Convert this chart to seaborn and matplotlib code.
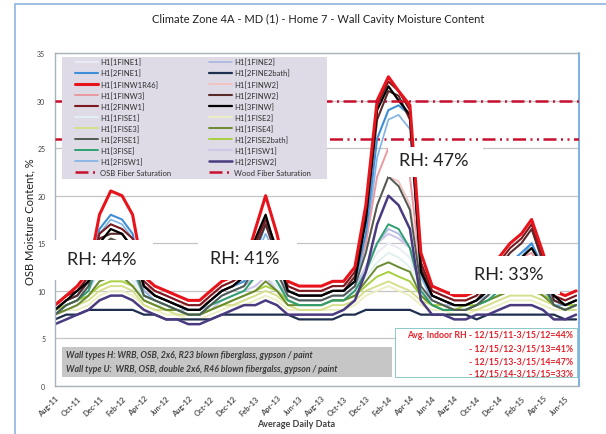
import pandas as pd
import matplotlib
matplotlib.use("Agg")
import matplotlib.pyplot as plt
from matplotlib.patches import Rectangle
from matplotlib.lines import Line2D
import seaborn as sns

sns.set_style("white")
plt.rcParams['font.family'] = ['Lato', 'DejaVu Sans']

# ---------------- data (monthly readings, Aug-11 .. Jul-15) ----------------
months = pd.date_range("2011-08-01", periods=48, freq="MS")

h1_1FINE1 = [8.0, 8.5, 9.0, 10.0, 12.0, 13.0, 12.5, 11.5, 9.5, 9.0, 8.5, 8.0,
             8.0, 8.0, 8.5, 9.5, 10.0, 10.5, 11.5, 12.5, 11.0, 9.0, 9.0, 9.0,
             9.0, 9.5, 9.5, 10.0, 12.0, 14.0, 15.0, 14.5, 13.5, 10.0, 9.0, 8.5,
             8.5, 8.5, 9.0, 9.5, 10.5, 11.0, 11.5, 11.5, 10.5, 9.0, 8.5, 9.0]
h1_1FINE2 = [8.0, 8.5, 9.0, 10.0, 12.5, 13.0, 13.0, 12.0, 9.5, 9.0, 8.5, 8.0,
             8.0, 8.0, 8.5, 9.5, 10.0, 10.5, 11.5, 12.5, 11.0, 9.5, 9.0, 9.0,
             9.0, 9.5, 9.5, 10.5, 12.5, 15.0, 16.5, 16.0, 14.5, 10.0, 9.0, 8.5,
             8.5, 8.5, 9.0, 9.5, 10.5, 11.0, 11.5, 12.0, 10.5, 9.0, 8.5, 9.0]
h1_2FINE1 = [8.0, 9.0, 9.5, 11.0, 16.5, 18.0, 17.5, 16.0, 10.5, 9.5, 9.0, 8.5,
             8.0, 8.0, 9.0, 10.0, 10.5, 11.0, 14.0, 17.0, 14.0, 10.0, 9.5, 9.5,
             9.5, 10.0, 10.0, 11.0, 16.0, 26.0, 29.0, 29.5, 28.5, 12.0, 9.5, 9.0,
             8.5, 8.5, 9.0, 10.0, 12.0, 13.0, 14.0, 15.0, 12.5, 9.0, 8.5, 9.0]
h1_2FINE2bath = [7.0, 7.5, 7.5, 8.0, 8.0, 8.0, 8.0, 8.0, 7.5, 7.5, 7.0, 7.0,
                 7.0, 7.0, 7.0, 7.5, 7.5, 7.5, 7.5, 7.5, 7.5, 7.5, 7.0, 7.0,
                 7.0, 7.0, 7.5, 7.5, 8.0, 8.0, 8.0, 8.0, 8.0, 7.5, 7.5, 7.5,
                 7.5, 7.5, 7.0, 7.5, 7.5, 7.5, 7.5, 7.5, 7.5, 7.5, 7.0, 7.0]
h1_1FINW1R46 = [8.5, 9.5, 10.5, 12.0, 18.0, 20.5, 20.0, 18.0, 11.5, 10.5, 10.0, 9.5,
                9.0, 9.0, 10.0, 11.0, 11.5, 12.5, 16.5, 20.0, 16.0, 11.0, 10.5, 10.5,
                10.5, 11.0, 11.0, 12.5, 19.0, 30.0, 32.5, 31.0, 29.5, 14.0, 10.5, 10.0,
                9.5, 9.5, 10.0, 11.5, 13.5, 15.0, 16.0, 17.5, 14.0, 10.0, 9.5, 10.0]
h1_1FINW2 = [8.5, 9.0, 9.5, 11.0, 13.5, 14.0, 14.0, 13.0, 10.0, 9.5, 9.0, 8.5,
             8.5, 8.5, 9.0, 10.0, 10.5, 11.0, 12.0, 13.0, 11.5, 10.0, 9.5, 9.5,
             9.5, 10.0, 10.0, 11.0, 14.0, 19.0, 22.0, 21.5, 19.0, 11.5, 9.5, 9.0,
             8.5, 8.5, 9.0, 10.0, 11.5, 12.5, 13.0, 13.0, 11.5, 9.5, 9.0, 9.5]
h1_1FINW3 = [8.5, 9.5, 10.0, 11.5, 14.5, 15.5, 15.0, 14.0, 10.5, 10.0, 9.5, 9.0,
             8.5, 8.5, 9.5, 10.5, 11.0, 11.5, 13.0, 14.5, 12.5, 10.5, 10.0, 10.0,
             10.0, 10.5, 10.5, 11.5, 15.0, 22.0, 25.0, 24.5, 22.0, 12.0, 10.0, 9.5,
             9.0, 9.0, 9.5, 10.5, 12.0, 13.0, 13.5, 14.0, 12.0, 10.0, 9.5, 10.0]
h1_2FINW2 = [8.0, 9.0, 9.5, 11.0, 15.5, 16.0, 16.0, 14.5, 10.5, 9.5, 9.0, 8.5,
             8.0, 8.0, 9.0, 10.0, 10.5, 11.5, 14.5, 17.0, 13.5, 10.0, 9.5, 9.5,
             9.5, 10.0, 10.0, 11.5, 17.5, 28.0, 31.0, 30.5, 28.0, 12.5, 9.5, 9.0,
             8.5, 8.5, 9.0, 10.5, 12.5, 14.0, 15.0, 16.5, 13.0, 9.0, 8.5, 9.0]
h1_2FINW1 = [8.5, 9.5, 10.0, 11.5, 16.0, 17.0, 16.5, 15.5, 11.0, 10.0, 9.5, 9.0,
             8.5, 8.5, 9.5, 10.5, 11.0, 12.0, 15.0, 17.5, 14.5, 10.5, 10.0, 10.0,
             10.0, 10.5, 10.5, 12.0, 18.0, 29.5, 32.0, 31.0, 29.0, 13.0, 10.0, 9.5,
             9.0, 9.0, 9.5, 11.0, 13.0, 14.5, 15.5, 17.0, 13.5, 9.5, 9.0, 9.5]
h1_3FINW = [8.0, 9.0, 10.0, 11.0, 15.0, 16.5, 16.0, 14.5, 10.5, 9.5, 9.0, 8.5,
            8.0, 8.0, 9.0, 10.0, 10.5, 11.5, 15.5, 18.0, 14.0, 10.0, 9.5, 9.5,
            9.5, 10.0, 10.0, 11.0, 17.5, 29.0, 31.5, 30.0, 28.5, 12.0, 9.5, 9.0,
            8.5, 8.5, 9.0, 10.0, 12.0, 13.0, 13.5, 14.5, 12.5, 9.5, 8.5, 9.0]
h1_1FISE1 = [8.0, 8.5, 9.0, 9.5, 11.0, 12.0, 12.0, 11.0, 9.0, 8.5, 8.5, 8.0,
             8.0, 8.0, 8.5, 9.0, 9.5, 10.0, 10.5, 11.5, 10.5, 9.0, 8.5, 8.5,
             8.5, 9.0, 9.0, 10.0, 11.5, 13.0, 14.0, 13.5, 12.5, 9.5, 9.0, 8.5,
             8.5, 8.5, 9.0, 9.5, 10.0, 10.5, 11.0, 11.0, 10.0, 9.0, 8.5, 9.0]
h1_1FISE2 = [7.5, 8.0, 8.0, 8.5, 9.5, 10.0, 10.0, 9.5, 8.5, 8.0, 7.5, 7.5,
             7.0, 7.0, 7.5, 8.0, 8.5, 8.5, 9.0, 9.5, 9.0, 8.0, 8.0, 8.0,
             8.0, 8.0, 8.0, 8.5, 9.5, 10.0, 10.5, 10.0, 9.5, 8.5, 8.0, 8.0,
             7.5, 7.5, 8.0, 8.0, 8.5, 9.0, 9.0, 9.0, 8.5, 8.0, 8.0, 8.0]
h1_1FISE3 = [7.5, 8.0, 8.5, 9.0, 10.0, 10.5, 10.5, 10.0, 8.5, 8.0, 8.0, 7.5,
             7.5, 7.5, 8.0, 8.5, 8.5, 9.0, 9.5, 10.0, 9.5, 8.5, 8.0, 8.0,
             8.0, 8.5, 8.5, 9.0, 10.0, 10.5, 11.0, 10.5, 10.0, 9.0, 8.5, 8.0,
             8.0, 8.0, 8.0, 8.5, 9.0, 9.5, 9.5, 9.5, 9.0, 8.5, 8.0, 8.0]
h1_1FISE4 = [7.5, 8.0, 8.5, 9.5, 11.0, 11.5, 11.5, 10.5, 9.0, 8.5, 8.0, 8.0,
             7.5, 7.5, 8.0, 8.5, 9.0, 9.5, 10.0, 11.0, 10.0, 8.5, 8.5, 8.5,
             8.5, 9.0, 9.0, 9.5, 11.0, 12.5, 13.0, 12.5, 12.0, 9.5, 8.5, 8.0,
             8.0, 8.0, 8.5, 9.0, 9.5, 10.0, 10.0, 10.5, 9.5, 8.5, 8.0, 8.5]
h1_2FISE1 = [7.5, 8.5, 9.0, 10.5, 14.5, 15.5, 15.0, 13.5, 9.5, 9.0, 8.5, 8.0,
             7.5, 7.5, 8.5, 9.5, 10.0, 10.5, 12.5, 14.5, 12.0, 9.5, 9.0, 9.0,
             9.0, 9.5, 9.5, 10.5, 14.0, 19.0, 22.0, 21.0, 18.5, 10.5, 9.0, 8.5,
             8.0, 8.0, 8.5, 9.5, 11.0, 12.0, 12.5, 13.0, 11.0, 8.5, 8.0, 8.5]
h1_2FISE2bath = [8.0, 8.5, 9.0, 9.5, 10.5, 11.0, 11.0, 10.5, 9.0, 8.5, 8.0, 8.0,
                 7.5, 7.5, 8.0, 8.5, 9.0, 9.5, 10.0, 10.5, 10.0, 9.0, 8.5, 8.5,
                 8.5, 9.0, 9.0, 9.5, 10.5, 11.5, 12.0, 11.5, 11.0, 9.5, 8.5, 8.5,
                 8.0, 8.5, 8.5, 9.0, 9.5, 10.0, 10.0, 10.0, 9.5, 9.0, 8.5, 8.5]
h1_3FISE = [7.5, 8.5, 9.0, 10.0, 13.5, 14.5, 14.0, 12.5, 9.5, 9.0, 8.5, 8.0,
            7.5, 7.5, 8.5, 9.0, 9.5, 10.0, 11.5, 13.0, 11.0, 9.0, 8.5, 8.5,
            8.5, 9.0, 9.0, 10.0, 12.0, 15.0, 17.0, 16.5, 14.5, 10.0, 8.5, 8.0,
            8.0, 8.0, 8.5, 9.0, 10.0, 11.0, 11.5, 12.0, 10.5, 8.5, 8.0, 8.5]
h1_1FISW1 = [7.5, 8.0, 8.5, 9.5, 11.0, 11.5, 11.5, 10.5, 9.0, 8.5, 8.0, 8.0,
             7.5, 7.5, 8.0, 9.0, 9.5, 10.0, 10.5, 11.5, 10.0, 9.0, 8.5, 8.5,
             8.5, 9.0, 9.0, 10.0, 12.5, 15.0, 16.0, 15.5, 14.5, 10.0, 9.0, 8.5,
             8.0, 8.0, 8.5, 9.0, 10.0, 10.5, 11.0, 11.0, 10.0, 8.5, 8.0, 8.5]
h1_2FISW1 = [8.0, 8.5, 9.0, 10.5, 16.0, 17.5, 17.0, 15.5, 10.0, 9.0, 8.5, 8.0,
             7.5, 7.5, 8.5, 9.5, 10.0, 10.5, 13.5, 16.0, 13.5, 9.5, 9.0, 9.0,
             9.0, 9.5, 9.5, 10.5, 15.0, 24.0, 28.0, 28.5, 27.0, 11.5, 9.0, 8.5,
             8.0, 8.0, 8.5, 9.5, 11.5, 12.5, 13.5, 15.0, 12.0, 8.5, 8.5, 8.5]
h1_2FISW2 = [6.5, 7.0, 7.5, 8.0, 9.0, 9.5, 9.5, 9.0, 8.0, 7.5, 7.0, 7.0,
             6.5, 6.5, 7.0, 7.5, 8.0, 8.5, 8.5, 9.0, 8.5, 7.5, 7.5, 7.5,
             7.5, 7.5, 8.0, 9.0, 12.0, 17.0, 20.0, 19.0, 16.5, 9.0, 7.5, 7.5,
             7.0, 7.0, 7.5, 7.5, 8.0, 8.5, 8.5, 8.5, 8.0, 7.0, 7.0, 7.5]

osb_fiber_saturation = 30
wood_fiber_saturation = 26

tick_labels = ["Aug-11", "Oct-11", "Dec-11", "Feb-12", "Apr-12", "Jun-12",
               "Aug-12", "Oct-12", "Dec-12", "Feb-13", "Apr-13", "Jun-13",
               "Aug-13", "Oct-13", "Dec-13", "Feb-14", "Apr-14", "Jun-14",
               "Aug-14", "Oct-14", "Dec-14", "Feb-15", "Apr-15", "Jun-15"]
y_ticks = [0, 5, 10, 15, 20, 25, 30, 35]

rh_labels = ["RH: 44%", "RH: 41%", "RH: 47%", "RH: 33%"]
avg_rh_lines = ["Avg. Indoor RH - 12/15/11-3/15/12=44%",
                "- 12/15/12-3/15/13=41%",
                "- 12/15/13-3/15/14=47%",
                "- 12/15/14-3/15/15=33%"]
wall_lines = ["Wall types H: WRB, OSB, 2x6, R23 blown fiberglass, gypson / paint",
              "Wall type U:  WRB, OSB, double 2x6, R46 blown fibergalss, gypson / paint"]

# name -> (values, colour, linewidth)
series = {
    "H1[1FINE1]": (h1_1FINE1, "#e9ecf4", 1.4),
    "H1[1FINE2]": (h1_1FINE2, "#a9b6e2", 1.2),
    "H1[2FINE1]": (h1_2FINE1, "#3f8fd8", 1.5),
    "H1[2FINE2bath]": (h1_2FINE2bath, "#1f2f4f", 1.6),
    "H1[1FINW1R46]": (h1_1FINW1R46, "#e8141c", 2.2),
    "H1[1FINW2]": (h1_1FINW2, "#f2c4c4", 1.4),
    "H1[1FINW3]": (h1_1FINW3, "#e89aa0", 1.4),
    "H1[2FINW2]": (h1_2FINW2, "#5a2a2a", 1.5),
    "H1[2FINW1]": (h1_2FINW1, "#7a1a20", 1.5),
    "H1[3FINW]": (h1_3FINW, "#000000", 1.6),
    "H1[1FISE1]": (h1_1FISE1, "#e2f0f0", 1.4),
    "H1[1FISE2]": (h1_1FISE2, "#eeeec4", 1.4),
    "H1[1FISE3]": (h1_1FISE3, "#d6e08a", 1.4),
    "H1[1FISE4]": (h1_1FISE4, "#6a8a30", 1.4),
    "H1[2FISE1]": (h1_2FISE1, "#505a50", 1.4),
    "H1[2FISE2bath]": (h1_2FISE2bath, "#a8d040", 1.4),
    "H1[3FISE]": (h1_3FISE, "#2ea070", 1.4),
    "H1[1FISW1]": (h1_1FISW1, "#cfc7e8", 1.5),
    "H1[2FISW1]": (h1_2FISW1, "#7fb2e5", 1.2),
    "H1[2FISW2]": (h1_2FISW2, "#4a3a80", 1.8),
}
draw_order = ["H1[1FINE1]", "H1[1FISE1]", "H1[1FISE2]", "H1[1FINW2]", "H1[1FISE3]",
              "H1[1FINE2]", "H1[1FISW1]", "H1[2FISW1]", "H1[2FISE2bath]", "H1[1FISE4]",
              "H1[3FISE]", "H1[1FINW3]", "H1[2FISE1]", "H1[2FINE2bath]", "H1[2FISW2]",
              "H1[2FINE1]", "H1[2FINW2]", "H1[2FINW1]", "H1[3FINW]", "H1[1FINW1R46]"]
legend_col1 = ["H1[1FINE1]", "H1[2FINE1]", "H1[1FINW1R46]", "H1[1FINW3]", "H1[2FINW1]",
               "H1[1FISE1]", "H1[1FISE3]", "H1[2FISE1]", "H1[3FISE]", "H1[2FISW1]"]
legend_col2 = ["H1[1FINE2]", "H1[2FINE2bath]", "H1[1FINW2]", "H1[2FINW2]", "H1[3FINW]",
               "H1[1FISE2]", "H1[1FISE4]", "H1[2FISE2bath]", "H1[1FISW1]", "H1[2FISW2]"]

# ---------------- figure ----------------
W, H = 606, 435
fig = plt.figure(figsize=(W / 100, H / 100), dpi=100)
L, R, T, B = 55, 579, 54, 387
ax = fig.add_axes([L / W, 1 - B / H, (R - L) / W, (B - T) / H])

def fx(px):
    return (px - L) / (R - L)

def fy(py):
    return (B - py) / (B - T)

# outer chart border
fig.add_artist(Rectangle((15 / W, -0.05), 1.0, 1.05 - 5 / H, transform=fig.transFigure,
                         fill=False, edgecolor="#8db4e2", lw=1.2))

for name in draw_order:
    vals, col, lw = series[name]
    sns.lineplot(x=months, y=vals, ax=ax, color=col, lw=lw, legend=False)

sat_color = "#c8102e"
osb_dash = (5.2, 1.8, 0.8, 1.8)
wood_dash = (5.2, 1.8, 0.8, 1.8, 0.8, 1.8)
ax.axhline(osb_fiber_saturation, color=sat_color, lw=1.8, dashes=osb_dash, zorder=3)
ax.axhline(wood_fiber_saturation, color=sat_color, lw=1.8, dashes=wood_dash, zorder=3)

ax.set_ylim(0, 35)
ax.set_xlim(pd.Timestamp("2011-08-01"), pd.Timestamp("2015-07-09"))
ax.set_yticks(y_ticks)
ax.set_yticklabels([str(v) for v in y_ticks], fontsize=5, color="#404040")
tick_dates = [pd.to_datetime(t, format="%b-%y") for t in tick_labels]
ax.set_xticks(tick_dates)
ax.set_xticklabels(tick_labels, rotation=45, ha="right", rotation_mode="anchor",
                   fontsize=5.5, fontweight="bold", color="#505050")
ax.tick_params(axis="both", length=0)
ax.tick_params(axis="y", pad=7)
ax.tick_params(axis="x", pad=6)
ax.set_xlabel("")
ax.set_ylabel("")
ax.yaxis.grid(True, color="#c4c4c4", lw=0.9)
ax.set_axisbelow(True)
for s in ["left", "bottom", "top"]:
    ax.spines[s].set_color("#a8b4bc")
    ax.spines[s].set_linewidth(1.0)
ax.spines["right"].set_color("#6aa6dc")
ax.spines["right"].set_linewidth(1.2)

# legend background + legend
ax.add_patch(Rectangle((fx(62), fy(180)), fx(327) - fx(62), fy(58) - fy(180),
                       transform=ax.transAxes, facecolor="#dedbe6", edgecolor="none", zorder=8))
def mk(name):
    vals, col, lw = series[name]
    return Line2D([], [], color=col, lw=lw)
handles = [mk(n) for n in legend_col1] + \
          [Line2D([], [], color=sat_color, lw=1.8, dashes=osb_dash)] + \
          [mk(n) for n in legend_col2] + \
          [Line2D([], [], color=sat_color, lw=1.8, dashes=wood_dash)]
labels = legend_col1 + ["OSB Fiber Saturation"] + legend_col2 + ["Wood Fiber Saturation"]
leg = ax.legend(handles, labels, ncol=2, loc="upper left",
                bbox_to_anchor=(fx(73), fy(57)), frameon=False, fontsize=5.5,
                handlelength=3.0, handletextpad=0.3, labelspacing=0.47,
                columnspacing=4.9, borderpad=0.3, borderaxespad=0)
leg.set_zorder(9)
for t in leg.get_texts():
    t.set_color("#303030")

# white RH boxes
boxes = [(52, 153, 241, 281, 102, 260),
         (198, 297, 241, 281, 245, 259),
         (388, 483, 148, 178, 434, 161),
         (450, 560, 257, 295, 509, 275)]
for (x0, x1, y0, y1, tx, ty), lab in zip(boxes, rh_labels):
    ax.add_patch(Rectangle((fx(x0), fy(y1)), fx(x1) - fx(x0), fy(y0) - fy(y1),
                           transform=ax.transAxes, facecolor="white", edgecolor="none",
                           zorder=6, clip_on=False))
    ax.text(fx(tx), fy(ty), lab, transform=ax.transAxes, ha="center", va="center",
            fontsize=13, color="#222222", zorder=7)

# wall type grey box
ax.add_patch(Rectangle((fx(62), fy(378)), fx(392) - fx(62), fy(348) - fy(378),
                       transform=ax.transAxes, facecolor="#c6c6c6", edgecolor="none", zorder=6))
for line, py in zip(wall_lines, [356, 370]):
    ax.text(fx(66), fy(py), line, transform=ax.transAxes, ha="left", va="center",
            fontsize=6.3, fontweight="bold", fontstyle="italic", color="#3a3a3a", zorder=7)

# average RH box
ax.add_patch(Rectangle((fx(395), fy(378)), fx(577) - fx(395), fy(329) - fy(378),
                       transform=ax.transAxes, facecolor="white", edgecolor="#8cc8c8",
                       lw=0.7, zorder=6))
for line, py in zip(avg_rh_lines, [336, 349, 362, 374]):
    ax.text(fx(573), fy(py), line, transform=ax.transAxes, ha="right", va="center",
            fontsize=6.3, fontweight="bold", color="#e8202a", zorder=7)

# titles
fig.text(318 / W, 1 - 19 / H, "Climate Zone 4A - MD (1) - Home 7 - Wall Cavity Moisture Content",
         ha="center", va="center", fontsize=8, color="#202020")
fig.text(30 / W, 1 - 222 / H, "OSB Moisture Content, %", rotation=90,
         ha="center", va="center", fontsize=8, color="#202020")
fig.text(296 / W, 1 - 425 / H, "Average Daily Data", ha="center", va="center",
         fontsize=6.5, fontweight="bold", color="#404040")

fig.savefig("out.png", dpi=100, facecolor="white")
